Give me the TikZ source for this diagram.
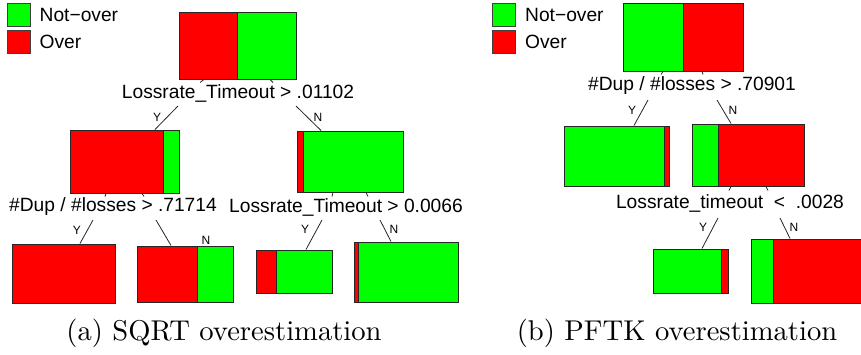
\documentclass[tikz,border=0pt]{standalone}
\usepackage{fontspec}
\newfontfamily\rfont{Liberation Sans}
\usetikzlibrary{positioning,fit}
\definecolor{over}{RGB}{255,0,0}
\definecolor{notover}{RGB}{0,255,0}

% scatola divisa: nome, x1, y1, x2, y2, divisione, colore sx, colore dx
\newcommand{\splitbox}[8]{%
  \fill[#7] (#2,#3) rectangle (#6,#5);
  \fill[#8] (#6,#3) rectangle (#4,#5);
  \draw[box line] (#6,#3) -- (#6,#5);
  \node[tree box, fit={(#2,#3) (#4,#5)}] (#1) {};
}

\begin{document}
\begin{tikzpicture}[x=1pt, y=-1pt,
    box line/.style={draw=black!85, line width=1pt},
    tree box/.style={draw=black!85, line width=1pt, inner sep=0pt},
    key box/.style={draw=black!75, line width=1pt, minimum size=23pt, inner sep=0pt},
    key text/.style={font=\rfont\fontsize{19.2}{22}\selectfont, inner sep=0pt},
    rule text/.style={font=\rfont\fontsize{19.2}{22}\selectfont, inner sep=0pt},
    yn text/.style={font=\rfont\fontsize{12}{14}\selectfont, inner sep=0pt},
    branch/.style={draw=black!85, line width=0.8pt}]

  \useasboundingbox (0,0) rectangle (861,354);

  % (a) SQRT
  \node[key box, fill=notover] (ka1) at (18.5,14.5) {};
  \node[key box, fill=over] (ka2) at (18.5,42) {};
  \node[key text, right=9pt of ka1] (ta1) {Not−over};
  \node[key text, right=9pt of ka2] (ta2) {Over};

  \splitbox{a0}{179}{12}{296}{79}{237}{over}{notover}
  \draw[branch] (a0.south -| 204,0) -- ++(-4,3);
  \draw[branch] (a0.south -| 270,0) -- ++(3,3);
  \node[rule text] (ra0) at (238,93) {Lossrate\_Timeout > .01102};
  \coordinate (a0y) at (178,106);
  \coordinate (a0n) at (296,106);

  \splitbox{a1}{70}{130}{179}{193}{163}{over}{notover}
  \splitbox{a2}{297}{131}{403}{192}{303}{over}{notover}
  \draw[branch] (a0y) -- (a1.north -| 155,0);
  \draw[branch] (a0n) -- (a2.north -| 321,0);
  \node[yn text] (ya0) at (157,117) {Y};
  \node[yn text] (na0) at (318,117) {N};

  % secondo livello
  \draw[branch] (a1.south -| 106,0) -- ++(-1,3);
  \draw[branch] (a1.south -| 142,0) -- ++(2,3);
  \draw[branch] (a2.south -| 333,0) -- ++(-1,4);
  \draw[branch] (a2.south -| 366,0) -- ++(2,4);
  \node[rule text] (ra1) at (113,207) {\#Dup / \#losses > .71714};
  \node[rule text] (ra2) at (346,207) {Lossrate\_Timeout > 0.0066};
  \coordinate (a1y) at (93,220);
  \coordinate (a1n) at (156,220);
  \coordinate (a2y) at (322,220);
  \coordinate (a2n) at (380,220);

  \splitbox{a11}{12}{244}{115}{303}{115}{over}{over}
  \splitbox{a12}{137}{246}{233}{302}{197}{over}{notover}
  \splitbox{a21}{256}{250}{332}{293}{276}{over}{notover}
  \splitbox{a22}{354}{242}{458}{302}{358}{over}{notover}
  \draw[branch] (a1y) -- (a11.north -| 80,0);
  \draw[branch] (a1n) -- (a12.north -| 171,0);
  \draw[branch] (a2y) -- (a21.north -| 306,0);
  \draw[branch] (a2n) -- (a22.north -| 391,0);
  \node[yn text] (ya1) at (77,230) {Y};
  \node[yn text] (na1) at (206,240) {N};
  \node[yn text] (ya2) at (305,229) {Y};
  \node[yn text] (na2) at (394,229) {N};

  \node (capa) at (224,333) {\scalebox{2.86}{(a) SQRT overestimation}};

  % (b) PFTK
  \node[key box, fill=notover] (kb1) at (504,14.5) {};
  \node[key box, fill=over] (kb2) at (504,42) {};
  \node[key text, right=9pt of kb1] (tb1) {Not−over};
  \node[key text, right=9pt of kb2] (tb2) {Over};

  \splitbox{b0}{623}{3}{743}{71}{683}{notover}{over}
  \draw[branch] (b0.south -| 663,0) -- ++(-2,3);
  \draw[branch] (b0.south -| 702,0) -- ++(1,3);
  \node[rule text] (rb0) at (692,86) {\#Dup / \#losses > .70901};
  \coordinate (b0y) at (648,100);
  \coordinate (b0n) at (717,100);

  \splitbox{b1}{564}{126}{669}{186}{664}{notover}{over}
  \splitbox{b2}{692}{124}{804}{186}{718}{notover}{over}
  \draw[branch] (b0y) -- (b1.north -| 634,0);
  \draw[branch] (b0n) -- (b2.north -| 731,0);
  \node[yn text] (yb0) at (632,110) {Y};
  \node[yn text] (nb0) at (733,110) {N};

  % secondo livello
  \draw[branch] (b2.south -| 731,0) -- ++(-2,4);
  \draw[branch] (b2.south -| 766,0) -- ++(2,4);
  \node[rule text] (rb2) at (730,203) {Lossrate\_timeout\ \ <\ \ .0028};
  \coordinate (b2y) at (718,218);
  \coordinate (b2n) at (780,218);

  \splitbox{b21}{653}{249}{728}{293}{721}{notover}{over}
  \splitbox{b22}{751}{239}{863}{303}{773}{notover}{over}
  \draw[branch] (b2y) -- (b21.north -| 702,0);
  \draw[branch] (b2n) -- (b22.north -| 790,0);
  \node[yn text] (yb2) at (703,227) {Y};
  \node[yn text] (nb2) at (794,227) {N};

  \node (capb) at (677,333) {\scalebox{2.86}{(b) PFTK overestimation}};

\end{tikzpicture}
\end{document}
